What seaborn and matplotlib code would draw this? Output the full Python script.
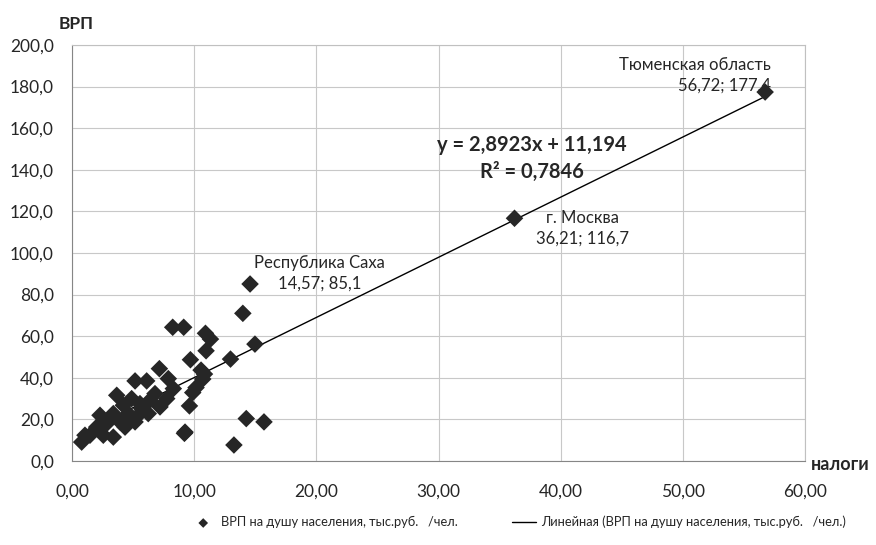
import numpy as np
import pandas as pd
import matplotlib
matplotlib.use("Agg")
import matplotlib.pyplot as plt
import seaborn as sns

# Data
taxes = [14.57, 13.98, 8.24, 9.14, 10.92, 11.33, 10.97, 14.97, 12.97, 9.69,
         10.56, 10.84, 10.70, 10.15, 9.88, 9.61, 9.20, 14.26, 15.71, 13.25,
         36.21, 56.72,
         7.15, 5.16, 6.11, 7.88, 8.29, 3.66, 4.88, 6.79, 7.75, 7.20,
         4.20, 5.70, 2.29, 3.38, 5.29, 4.61, 6.24, 2.84, 3.93, 2.02,
         3.38, 2.56, 1.47, 0.79, 1.06, 5.56, 6.38, 4.34, 5.16, 9.25]
grp = [85.1, 71.0, 64.3, 64.3, 61.4, 58.6, 53.0, 56.2, 49.0, 48.7,
       43.7, 41.8, 39.4, 35.3, 32.9, 26.5, 13.3, 20.4, 18.8, 7.7,
       116.7, 177.4,
       44.4, 38.5, 38.5, 39.6, 34.8, 31.6, 30.0, 32.4, 30.0, 26.0,
       26.8, 25.2, 22.0, 22.8, 21.2, 22.8, 22.8, 18.0, 18.8, 16.3,
       11.5, 12.4, 12.4, 9.1, 12.4, 27.6, 29.2, 16.3, 18.8, 13.9]
trend_slope = 2.8923
trend_intercept = 11.194
r_squared = 0.7846
labels = {"Тюменская область": (56.72, 177.4),
          "г. Москва": (36.21, 116.7),
          "Республика Саха": (14.57, 85.1)}
xticks = [0, 10, 20, 30, 40, 50, 60]
yticks = [0, 20, 40, 60, 80, 100, 120, 140, 160, 180, 200]
series_name = "ВРП на душу населения, тыс.руб.   /чел."
trend_name = "Линейная (ВРП на душу населения, тыс.руб.   /чел.)"

sns.set_theme(style="white")
plt.rcParams['font.family'] = ['Lato', 'DejaVu Sans']

df = pd.DataFrame({"налоги": taxes, "ВРП": grp})
fig = plt.figure(figsize=(8.76, 5.45), dpi=100)
ax = fig.add_axes([0.0822, 0.1541, 0.837, 0.7633])

xs = np.array([min(taxes), max(taxes)])
trend = pd.DataFrame({"x": xs, "y": trend_slope * xs + trend_intercept})
sns.lineplot(data=trend, x="x", y="y", ax=ax, color="black", lw=1.0,
             label=trend_name, zorder=2)
sns.scatterplot(data=df, x="налоги", y="ВРП", ax=ax, marker="D", s=80,
                color="#262626", edgecolor="none", label=series_name, zorder=3)

ax.set_xlim(0, 60)
ax.set_ylim(0, 200)
ax.set_xticks(xticks)
ax.set_yticks(yticks)
ax.set_xticklabels([f"{v:.2f}".replace(".", ",") for v in xticks], fontsize=12.5)
ax.set_yticklabels([f"{v:.1f}".replace(".", ",") for v in yticks], fontsize=12.5)
ax.tick_params(axis="x", length=0, pad=16)
ax.tick_params(axis="y", length=0, pad=13)
ax.grid(True, color="#c8c8c8", lw=0.8)
ax.set_axisbelow(True)
for s in ax.spines.values():
    s.set_color("#c0c0c0")
    s.set_linewidth(0.8)
ax.spines["left"].set_color("#868686")
ax.spines["bottom"].set_color("#868686")
ax.set_xlabel("")
ax.set_ylabel("")

fig.text(59 / 876, 1 - 24 / 545, "ВРП", fontsize=12.5, fontweight="bold",
         ha="left", va="center")
fig.text(811 / 876, 1 - 465 / 545, "налоги", fontsize=13, fontweight="bold",
         ha="left", va="center")

placement = {"Тюменская область": ((4, 12), "right"),
             "г. Москва": ((49, -7), "center"),
             "Республика Саха": ((50, 8), "center")}
for name, (lx, ly) in labels.items():
    val = f"{lx:.2f}".replace(".", ",") + "; " + f"{ly:.1f}".replace(".", ",")
    off, ha = placement[name]
    ax.annotate(f"{name}\n{val}", (lx, ly), textcoords="offset points",
                xytext=off, ha=ha, va="center", fontsize=12,
                multialignment=ha, linespacing=1.35)

ax.text(0.607, 0.734, f"y = {trend_slope:.4f}x + {trend_intercept:.3f}".replace(".", ","),
        transform=fig.transFigure, fontsize=14.5, fontweight="bold", ha="center", va="center")
ax.text(0.607, 0.684, f"R² = {r_squared:.4f}".replace(".", ","),
        transform=fig.transFigure, fontsize=14.5, fontweight="bold", ha="center", va="center")

h, l = ax.get_legend_handles_labels()
leg = ax.legend(h[::-1], l[::-1], loc="center", bbox_to_anchor=(0.592, 0.042),
                bbox_transform=fig.transFigure, ncol=2, frameon=False,
                fontsize=9.3, handlelength=1.9, handletextpad=0.4,
                columnspacing=4.2, markerscale=0.55)

fig.savefig("out.png", dpi=100)
